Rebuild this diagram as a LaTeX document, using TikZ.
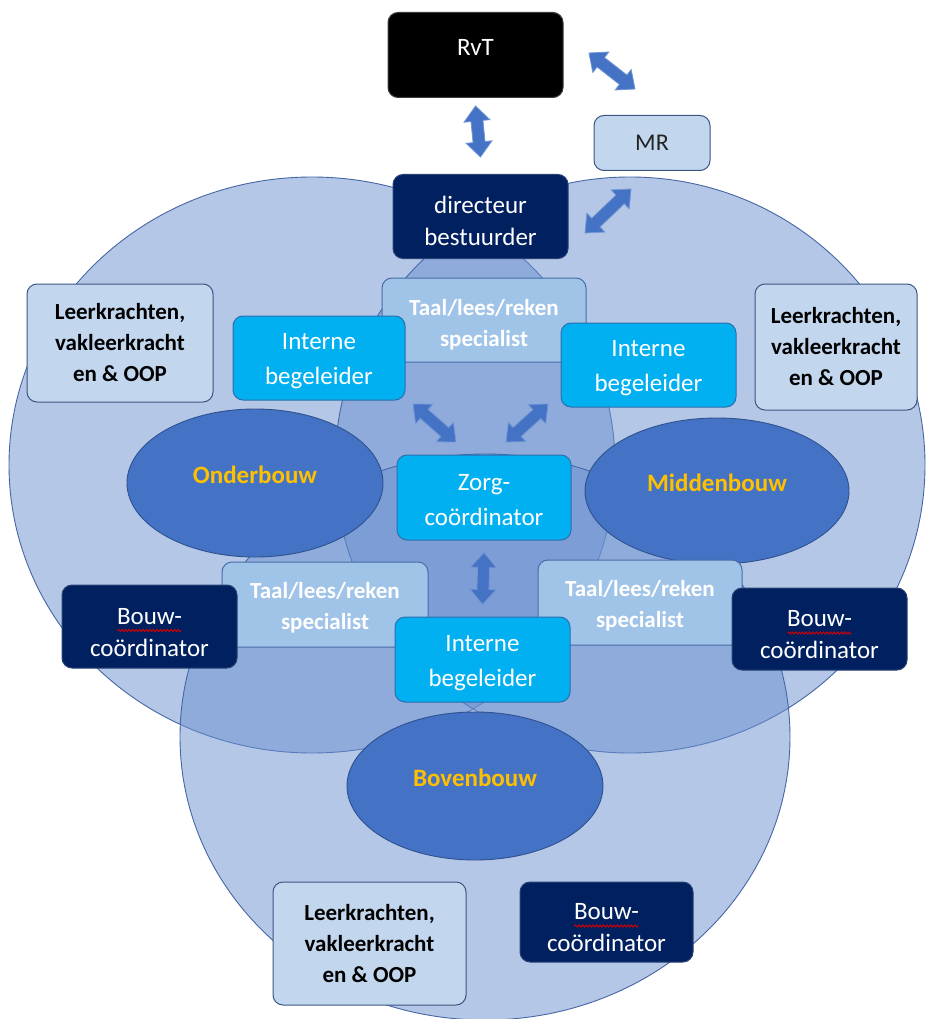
\documentclass[tikz,border=0pt]{standalone}
\usepackage{fontspec}
\setmainfont{Carlito}
\usetikzlibrary{calc,shapes.geometric,decorations.pathmorphing}
\definecolor{vennfill}{RGB}{107,145,208}
\definecolor{vennline}{RGB}{70,102,165}
\definecolor{ellfill}{RGB}{68,114,196}
\definecolor{ellline}{RGB}{47,82,143}
\definecolor{goldtxt}{RGB}{255,192,0}
\definecolor{navyfill}{RGB}{0,32,96}
\definecolor{navyline}{RGB}{40,66,118}
\definecolor{cyanfill}{RGB}{0,176,240}
\definecolor{cyanline}{RGB}{46,110,175}
\definecolor{taalfill}{RGB}{160,196,232}
\definecolor{taalline}{RGB}{70,108,168}
\definecolor{leerfill}{RGB}{194,214,238}
\definecolor{leerline}{RGB}{60,85,130}
\definecolor{rvtline}{RGB}{60,60,60}
\definecolor{mrtext}{RGB}{35,35,35}
\definecolor{arrfill}{RGB}{68,114,196}
\definecolor{arrline}{RGB}{115,150,212}
\newcommand{\txtdown}[1]{\rule{0pt}{#1}}
\newcommand{\blockarr}[3]{%
  \coordinate (#3p) at ($(#1)!15pt!(#2)$);
  \coordinate (#3q) at ($(#2)!15pt!(#1)$);
  \draw[barrow] (#1) -- ($(#3p)!13pt!90:(#2)$) -- ($(#3p)!6pt!90:(#2)$)
    -- ($(#3q)!6pt!-90:(#1)$) -- ($(#3q)!13pt!-90:(#1)$) -- (#2)
    -- ($(#3q)!13pt!90:(#1)$) -- ($(#3q)!6pt!90:(#1)$)
    -- ($(#3p)!6pt!-90:(#2)$) -- ($(#3p)!13pt!-90:(#2)$) -- cycle;
}
\tikzset{
  venn/.style={fill=vennfill, fill opacity=0.5, draw=vennline, line width=0.9pt},
  bouwell/.style={ellipse, fill=ellfill, draw=ellline, line width=0.9pt, text=goldtxt,
    font=\bfseries\fontsize{25}{30}\selectfont, text height=10pt, text depth=10pt, inner sep=0pt},
  rbox/.style={rectangle, rounded corners=10pt, line width=1pt, align=center, inner sep=2pt},
  navyb/.style={rbox, fill=navyfill, draw=navyline, text=white, font=\fontsize{25}{32}\selectfont},
  cyanb/.style={rbox, fill=cyanfill, draw=cyanline, text=white, font=\fontsize{25}{35}\selectfont},
  taalb/.style={rbox, fill=taalfill, draw=taalline, text=white, font=\bfseries\fontsize{23}{31}\selectfont},
  leerb/.style={rbox, fill=leerfill, draw=leerline, text=black, font=\bfseries\fontsize{23}{31}\selectfont},
  barrow/.style={fill=arrfill, draw=arrline, line width=0.8pt, line join=miter},
  squiggle/.style={draw=red!85!black, line width=0.9pt, decorate,
    decoration={snake, amplitude=1.1pt, segment length=3.5pt}},
}
\begin{document}
\begin{tikzpicture}[x=1pt,y=-1pt]
\useasboundingbox (0,0) rectangle (929,1019);
\fill[white] (0,0) rectangle (929,1019);
% Venn circles
\path[venn] (312,465) ellipse [x radius=303, y radius=288];
\path[venn] (630,465) ellipse [x radius=295, y radius=288];
\path[venn] (485,737) ellipse [x radius=305, y radius=283];
% inner ellipses
\node[bouwell, minimum width=256pt, minimum height=148pt] (onder) at (255,483) {Onderbouw};
\node[bouwell, minimum width=264pt, minimum height=146pt] (midden) at (717,491) {Middenbouw};
\node[bouwell, minimum width=256pt, minimum height=148pt] (boven) at (475,786) {Bovenbouw};
% top
\node[rbox, fill=black, draw=rvtline, text=white, font=\fontsize{25}{30}\selectfont,
  minimum width=175pt, minimum height=85pt, text depth=16pt] (rvt) at (475.5,55) {RvT};
\node[rbox, fill=leerfill, draw=leerline, text=mrtext, font=\fontsize{24}{30}\selectfont,
  minimum width=116pt, minimum height=55pt] (mr) at (652,143) {MR};
\node[navyb, minimum width=175pt, minimum height=84pt] (dir) at (480.5,216.5) {\txtdown{26pt}directeur\\bestuurder};
% upper ring
\node[leerb, minimum width=186pt, minimum height=118pt] (leerL) at (120,343) {Leerkrachten,\\vakleerkracht\\en \& OOP};
\node[leerb, minimum width=162pt, minimum height=126pt] (leerR) at (836,347) {Leerkrachten,\\vakleerkracht\\en \& OOP};
\node[taalb, minimum width=204pt, minimum height=84pt] (taalT) at (484,320) {\txtdown{25pt}Taal/lees/reken\\specialist};
\node[cyanb, minimum width=172pt, minimum height=84pt] (ibL) at (319,358) {\txtdown{23pt}Interne\\begeleider};
\node[cyanb, minimum width=175pt, minimum height=84pt] (ibR) at (648.5,365) {\txtdown{23pt}Interne\\begeleider};
\node[cyanb, minimum width=174pt, minimum height=85pt] (zorg) at (484,497.5) {\txtdown{21pt}Zorg-\\coördinator};
% lower ring
\node[taalb, minimum width=206pt, minimum height=85pt] (taalL) at (325,604.5) {\txtdown{22pt}Taal/lees/reken\\specialist};
\node[taalb, minimum width=204pt, minimum height=85pt] (taalR) at (640,602.5) {\txtdown{22pt}Taal/lees/reken\\specialist};
\node[navyb, minimum width=175pt, minimum height=83pt] (bcL) at (149.5,626.5) {\txtdown{28pt}Bouw-\\coördinator};
\node[navyb, minimum width=175pt, minimum height=82pt] (bcR) at (819.5,629) {\txtdown{28pt}Bouw-\\coördinator};
\node[cyanb, minimum width=175pt, minimum height=85pt] (ibB) at (482.5,659.5) {\txtdown{23pt}Interne\\begeleider};
% bottom
\node[leerb, minimum width=193pt, minimum height=123pt] (leerB) at (369.5,943.5) {Leerkrachten,\\vakleerkracht\\en \& OOP};
\node[navyb, minimum width=173pt, minimum height=80pt] (bcB) at (606.5,922) {\txtdown{28pt}Bouw-\\coördinator};
% spelling squiggles
\draw[squiggle] ($(bcL.center)+(-32,4)$) -- ($(bcL.center)+(32,4)$);
\draw[squiggle] ($(bcR.center)+(-32,4)$) -- ($(bcR.center)+(32,4)$);
\draw[squiggle] ($(bcB.center)+(-32,4)$) -- ($(bcB.center)+(32,4)$);
% arrow end points
\coordinate (ar1s) at (589,53);
\coordinate (ar1e) at (635,89);
\coordinate (ar2s) at ($(rvt.south)+(0,8)$);
\coordinate (ar2e) at ($(dir.north)+(0,-17)$);
\coordinate (ar3s) at (585,233);
\coordinate (ar3e) at (631,189);
\coordinate (ar4s) at (413,404);
\coordinate (ar4e) at (456,442);
\coordinate (ar5s) at (548,404);
\coordinate (ar5e) at (506,442);
\coordinate (ar6s) at ($(zorg.south)+(0,12)$);
\coordinate (ar6e) at ($(ibB.north)+(0,-12)$);
\blockarr{ar1s}{ar1e}{aa}
\blockarr{ar2s}{ar2e}{ab}
\blockarr{ar3s}{ar3e}{ac}
\blockarr{ar4s}{ar4e}{ad}
\blockarr{ar5s}{ar5e}{ae}
\blockarr{ar6s}{ar6e}{af}
\end{tikzpicture}
\end{document}
